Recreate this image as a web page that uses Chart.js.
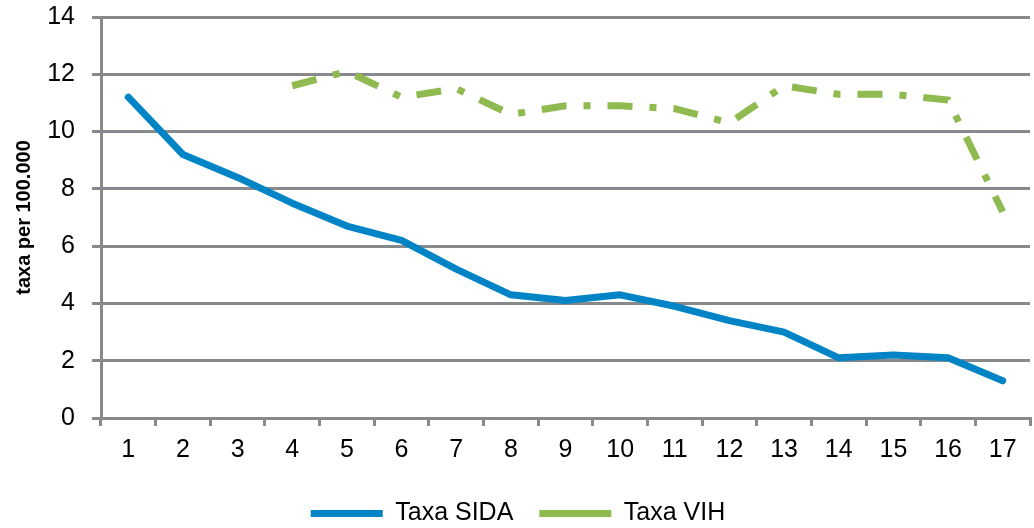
<!DOCTYPE html>
<html>
<head>
<meta charset="utf-8">
<script src="https://cdn.jsdelivr.net/npm/chart.js@4"></script>
<style>
body { margin: 0; background: #fff; }
#wrap { width: 1034px; height: 528px; }
</style>
</head>
<body>
<div id="wrap"><canvas id="chart" width="1034" height="528"></canvas></div>
<script>
// categories (x axis) and the two series
var categories = ['1','2','3','4','5','6','7','8','9','10','11','12','13','14','15','16','17']
var taxaSida = [11.2, 9.2, 8.4, 7.5, 6.7, 6.2, 5.2, 4.3, 4.1, 4.3, 3.9, 3.4, 3.0, 2.1, 2.2, 2.1, 1.3]
var taxaVih = [null, null, null, 11.6, 12.1, 11.2, 11.5, 10.6, 10.9, 10.9, 10.8, 10.3, 11.6, 11.3, 11.3, 11.1, 7.2]
var yTicks = [0, 2, 4, 6, 8, 10, 12, 14]

var gray = '#868a8c'
var font = 'Liberation Sans, Arial, sans-serif'

var ctx = document.getElementById('chart').getContext('2d')
var chart = new Chart(ctx, {
    type: 'line',
    data: {
        labels: categories,
        datasets: [{
            label: 'Taxa SIDA',
            data: taxaSida,
            borderColor: '#0084c6',
            backgroundColor: '#0084c6',
            borderWidth: 7,
            borderCapStyle: 'round',
            borderJoinStyle: 'round',
            pointRadius: 0,
            tension: 0
        }, {
            label: 'Taxa VIH',
            data: taxaVih,
            borderColor: '#8fba50',
            backgroundColor: '#8fba50',
            borderWidth: 7,
            borderDash: [25, 17, 7, 17],
            borderCapStyle: 'butt',
            pointRadius: 0,
            tension: 0
        }]
    },
    options: {
        responsive: false,
        animation: false,
        layout: { padding: { left: 6, right: 4, top: 17, bottom: -8 } },
        plugins: {
            legend: {
                position: 'bottom',
                labels: {
                    usePointStyle: true,
                    pointStyle: 'line',
                    pointStyleWidth: 72,
                    padding: 26,
                    color: '#000',
                    font: { family: font, size: 25 }
                }
            },
            tooltip: { enabled: false }
        },
        scales: {
            x: {
                offset: true,
                grid: { offset: true, drawOnChartArea: false, color: gray, lineWidth: 3, tickLength: 8 },
                border: { color: gray, width: 3 },
                ticks: { color: '#000', font: { family: font, size: 25, lineHeight: 1 }, padding: 12, maxRotation: 0 }
            },
            y: {
                min: 0,
                max: 14,
                afterBuildTicks: function(axis){ axis.ticks = yTicks.map(function(v){ return { value: v } }) },
                afterFit: function(axis){
                    axis.width = 95
                    axis.paddingTop = 0
                    axis.paddingBottom = 0
                },
                grid: { color: gray, lineWidth: 3, tickLength: 9 },
                border: { color: gray, width: 3 },
                ticks: { color: '#000', font: { family: font, size: 25 }, padding: 17 },
                title: { display: true, text: 'taxa per 100.000', color: '#000', font: { family: font, size: 20, weight: 'bold' }, padding: { top: 6, bottom: 11 } }
            }
        }
    }
})
</script>
</body>
</html>
